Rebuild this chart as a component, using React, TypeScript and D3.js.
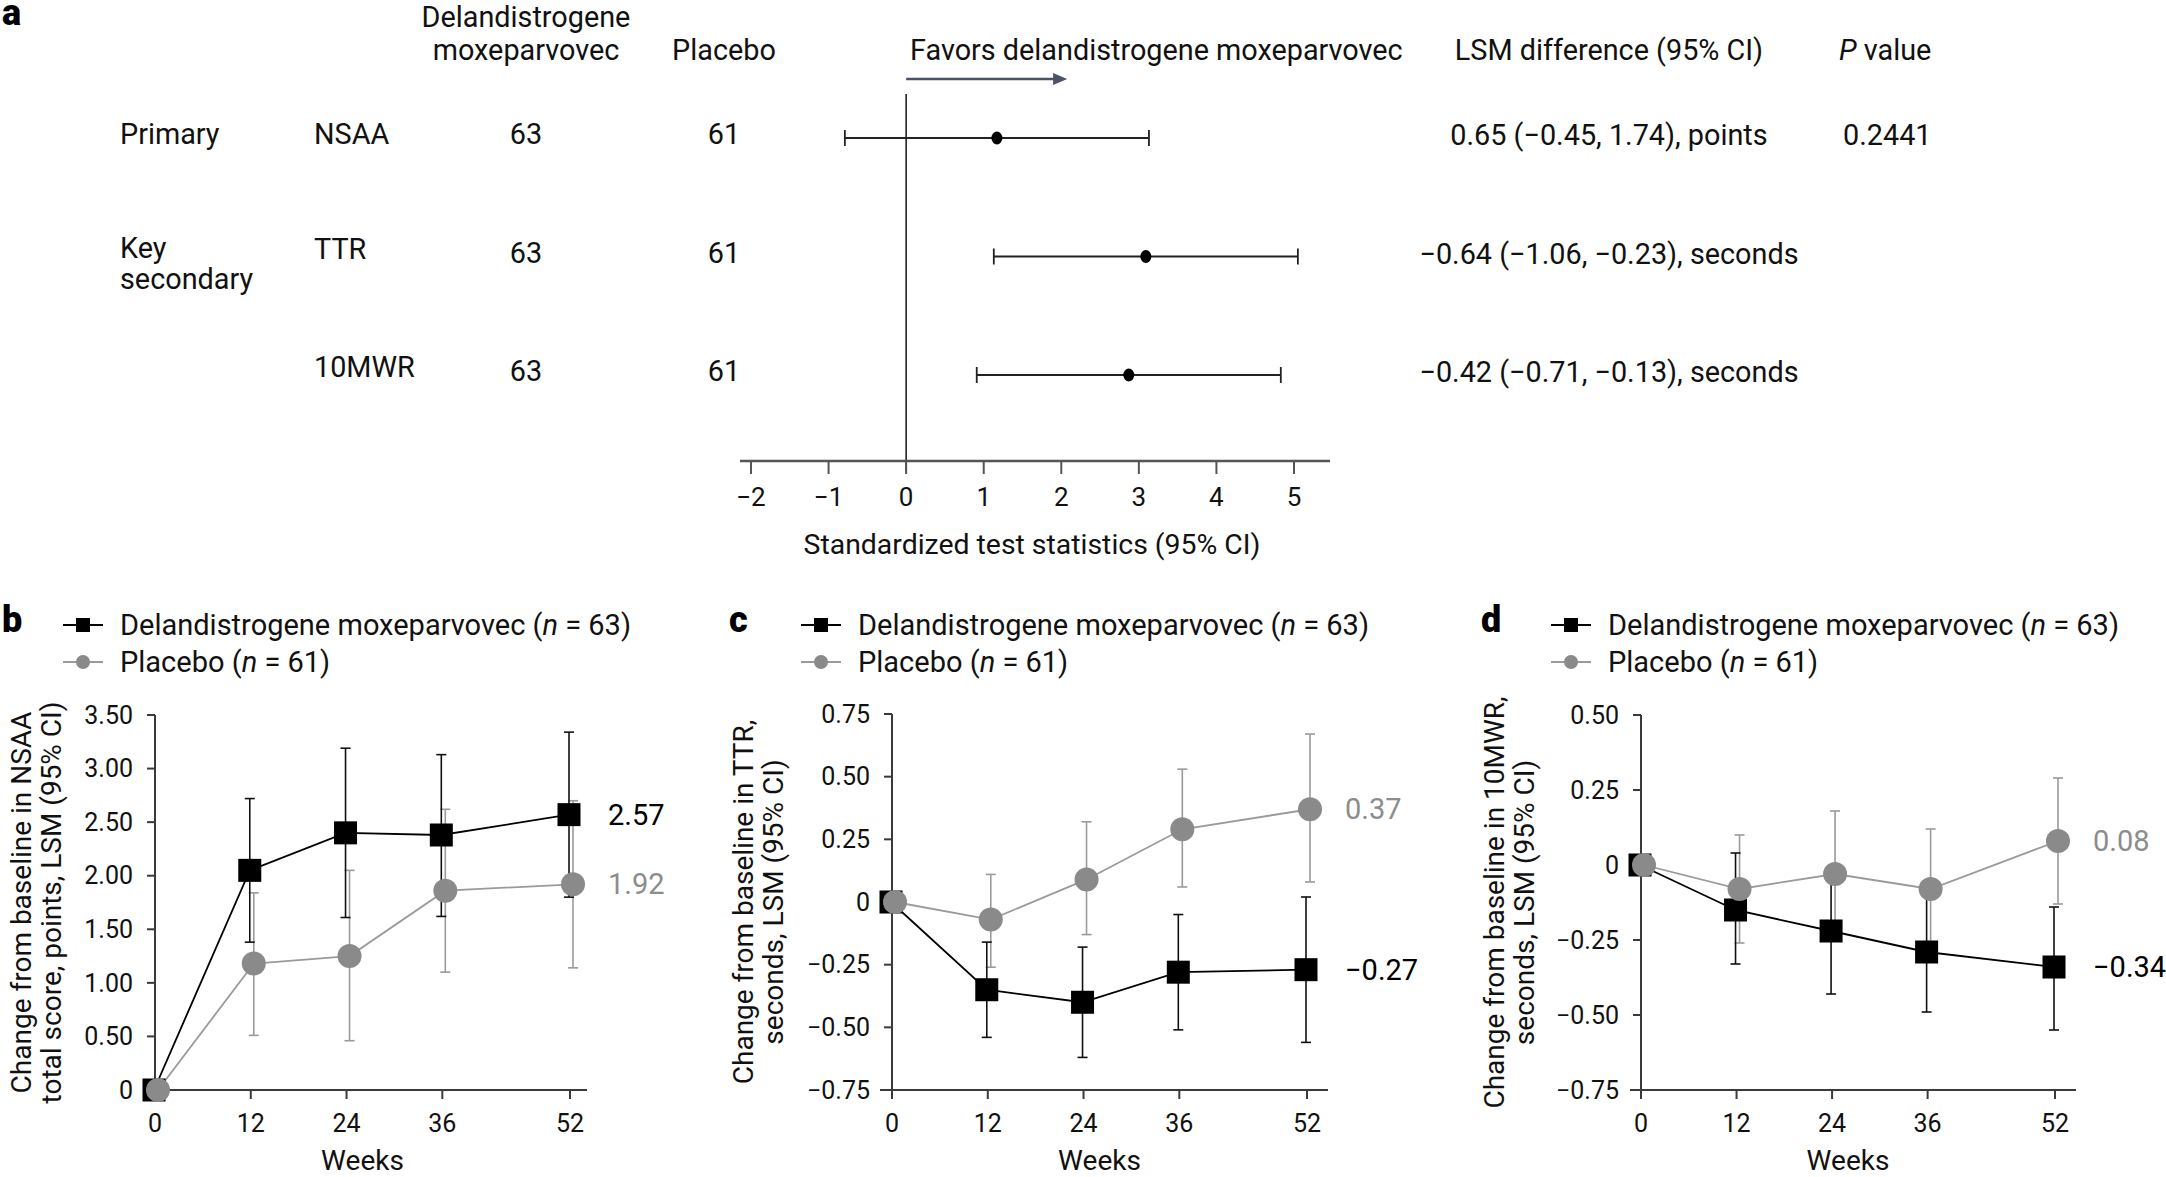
import React from "react";
import * as d3 from "d3";

const FONT = "Roboto, 'Noto Sans', 'DejaVu Sans', sans-serif";

// ---------- Panel a data ----------
const forestOutcomes = ["NSAA", "TTR", "10MWR"];
const forestGroups = [["Primary"], ["Key", "secondary"], []];
const forestDrugN = [63, 63, 63];
const forestPlaceboN = [61, 61, 61];
const forestEstimate = [1.17, 3.09, 2.87];
const forestLower = [-0.79, 1.13, 0.91];
const forestUpper = [3.13, 5.05, 4.83];
const lsmDifference = [
  "0.65 (\u22120.45, 1.74), points",
  "\u22120.64 (\u22121.06, \u22120.23), seconds",
  "\u22120.42 (\u22120.71, \u22120.13), seconds",
];
const pValues = ["0.2441", "", ""];
const forestTicks = [-2, -1, 0, 1, 2, 3, 4, 5];

// ---------- Panels b-d data ----------
const weeks = [0, 12, 24, 36, 52];

const nsaaDrug = [0, 2.05, 2.4, 2.38, 2.57];
const nsaaDrugLower = [null, 1.38, 1.61, 1.62, 1.8];
const nsaaDrugUpper = [null, 2.72, 3.19, 3.13, 3.34];
const nsaaPlacebo = [0, 1.18, 1.25, 1.86, 1.92];
const nsaaPlaceboLower = [null, 0.51, 0.46, 1.1, 1.14];
const nsaaPlaceboUpper = [null, 1.84, 2.05, 2.62, 2.7];
const nsaaTicks = [0, 0.5, 1, 1.5, 2, 2.5, 3, 3.5];

const ttrDrug = [0, -0.35, -0.4, -0.28, -0.27];
const ttrDrugLower = [null, -0.54, -0.62, -0.51, -0.56];
const ttrDrugUpper = [null, -0.16, -0.18, -0.05, 0.02];
const ttrPlacebo = [0, -0.07, 0.09, 0.29, 0.37];
const ttrPlaceboLower = [null, -0.26, -0.13, 0.06, 0.08];
const ttrPlaceboUpper = [null, 0.11, 0.32, 0.53, 0.67];
const ttrTicks = [-0.75, -0.5, -0.25, 0, 0.25, 0.5, 0.75];

const mwrDrug = [0, -0.15, -0.22, -0.29, -0.34];
const mwrDrugLower = [null, -0.33, -0.43, -0.49, -0.55];
const mwrDrugUpper = [null, 0.04, -0.01, -0.09, -0.14];
const mwrPlacebo = [0, -0.08, -0.03, -0.08, 0.08];
const mwrPlaceboLower = [null, -0.26, -0.24, -0.29, -0.13];
const mwrPlaceboUpper = [null, 0.1, 0.18, 0.12, 0.29];
const mwrTicks = [-0.75, -0.5, -0.25, 0, 0.25, 0.5];

const legendDrug = "Delandistrogene moxeparvovec";
const legendPlacebo = "Placebo";
const drugN = 63;
const placeboN = 61;

const GRAY_FILL = "#8a8a8a";
const GRAY_LINE = "#9a9a9a";
const GRAY_TEXT = "#8c8c8c";
const AXIS = "#3a3a3a";

const fmtTick = (v: number) => (v === 0 ? "0" : d3.format(".2f")(v));
const fmtEnd = d3.format(".2f");

type Series = {
  mean: number[];
  lower: (number | null)[];
  upper: (number | null)[];
};

type PanelCfg = {
  letter: string;
  letterX: number;
  legendX: number;
  xRange: [number, number];
  axisExtent: [number, number];
  yDomain: [number, number];
  yRange: [number, number];
  ticks: number[];
  titleLines: string[];
  titleX: [number, number];
  drug: Series;
  placebo: Series;
};

const panels: PanelCfg[] = [
  {
    letter: "b",
    letterX: 2,
    legendX: 63,
    xRange: [155, 570],
    axisExtent: [150, 587],
    yDomain: [0, 3.5],
    yRange: [1090, 715],
    ticks: nsaaTicks,
    titleLines: ["Change from baseline in NSAA", "total score, points, LSM (95% CI)"],
    titleX: [21, 51],
    drug: { mean: nsaaDrug, lower: nsaaDrugLower, upper: nsaaDrugUpper },
    placebo: { mean: nsaaPlacebo, lower: nsaaPlaceboLower, upper: nsaaPlaceboUpper },
  },
  {
    letter: "c",
    letterX: 729,
    legendX: 801,
    xRange: [892, 1307],
    axisExtent: [880, 1328],
    yDomain: [-0.75, 0.75],
    yRange: [1090, 714],
    ticks: ttrTicks,
    titleLines: ["Change from baseline in TTR,", "seconds, LSM (95% CI)"],
    titleX: [743, 773],
    drug: { mean: ttrDrug, lower: ttrDrugLower, upper: ttrDrugUpper },
    placebo: { mean: ttrPlacebo, lower: ttrPlaceboLower, upper: ttrPlaceboUpper },
  },
  {
    letter: "d",
    letterX: 1481,
    legendX: 1551,
    xRange: [1641, 2055],
    axisExtent: [1630, 2076],
    yDomain: [-0.75, 0.5],
    yRange: [1090, 715],
    ticks: mwrTicks,
    titleLines: ["Change from baseline in 10MWR,", "seconds, LSM (95% CI)"],
    titleX: [1494, 1524],
    drug: { mean: mwrDrug, lower: mwrDrugLower, upper: mwrDrugUpper },
    placebo: { mean: mwrPlacebo, lower: mwrPlaceboLower, upper: mwrPlaceboUpper },
  },
];

function ErrorBars({ s, x, y, color, dx }: any) {
  return (
    <g stroke={color} strokeWidth={1.6} fill="none">
      {weeks.map((w, i) => {
        const lo = s.lower[i];
        const hi = s.upper[i];
        if (lo === null || hi === null) return null;
        const cx = x(w) + dx;
        return (
          <g key={i}>
            <line x1={cx} x2={cx} y1={y(lo)} y2={y(hi)} />
            <line x1={cx - 5} x2={cx + 5} y1={y(lo)} y2={y(lo)} />
            <line x1={cx - 5} x2={cx + 5} y1={y(hi)} y2={y(hi)} />
          </g>
        );
      })}
    </g>
  );
}

function Panel({ cfg }: { cfg: PanelCfg }) {
  const x = d3.scaleLinear().domain([0, 52]).range(cfg.xRange);
  const y = d3.scaleLinear().domain(cfg.yDomain).range(cfg.yRange);
  const drugDx = -1;
  const placDx = 3;
  const lineGen = (dx: number) =>
    d3
      .line<number>()
      .x((_, i) => x(weeks[i]) + dx)
      .y((v) => y(v));
  const x0 = cfg.xRange[0];
  const yBottom = cfg.yRange[0];
  const yTop = cfg.yRange[1];
  const yMid = (yBottom + yTop) / 2;
  const lastI = weeks.length - 1;
  const lx = cfg.legendX;
  const lfs = 29;
  return (
    <g fontFamily={FONT}>
      {/* letter */}
      <text x={cfg.letterX} y={632} fontSize={36} fontWeight={900} fill="#000">
        {cfg.letter}
      </text>
      {/* legend */}
      <g>
        <line x1={lx} x2={lx + 40} y1={625} y2={625} stroke="#000" strokeWidth={2} />
        <rect x={lx + 20 - 7} y={625 - 7} width={14} height={14} fill="#000" />
        <text x={lx + 57} y={625} dy="0.35em" fontSize={lfs} fill="#111">
          {legendDrug} (<tspan fontStyle="italic">n</tspan> = {drugN})
        </text>
        <line x1={lx} x2={lx + 40} y1={662} y2={662} stroke={GRAY_LINE} strokeWidth={2} />
        <circle cx={lx + 20} cy={662} r={7} fill={GRAY_FILL} />
        <text x={lx + 57} y={662} dy="0.35em" fontSize={lfs} fill="#111">
          {legendPlacebo} (<tspan fontStyle="italic">n</tspan> = {placeboN})
        </text>
      </g>
      {/* axes */}
      <line x1={x0} x2={x0} y1={yTop} y2={yBottom} stroke={AXIS} strokeWidth={2} />
      <line x1={cfg.axisExtent[0]} x2={cfg.axisExtent[1]} y1={yBottom} y2={yBottom} stroke={AXIS} strokeWidth={2} />
      {cfg.ticks.map((t) => (
        <g key={t}>
          <line x1={x0 - 8} x2={x0} y1={y(t)} y2={y(t)} stroke={AXIS} strokeWidth={2} />
          <text x={x0 - 22} y={y(t)} dy="0.35em" textAnchor="end" fontSize={25} fill="#111">
            {fmtTick(t)}
          </text>
        </g>
      ))}
      {weeks.map((w) => (
        <g key={w}>
          <line x1={x(w)} x2={x(w)} y1={yBottom} y2={yBottom + 9} stroke={AXIS} strokeWidth={2} />
          <text x={x(w)} y={1123} dy="0.35em" textAnchor="middle" fontSize={25} fill="#111">
            {w}
          </text>
        </g>
      ))}
      <text x={(cfg.xRange[0] + cfg.xRange[1]) / 2} y={1160} dy="0.35em" textAnchor="middle" fontSize={28} fill="#111">
        Weeks
      </text>
      {cfg.titleLines.map((t, i) => (
        <text
          key={i}
          transform={`translate(${cfg.titleX[i]},${yMid}) rotate(-90)`}
          dy="0.35em"
          textAnchor="middle"
          fontSize={28}
          fill="#111"
        >
          {t}
        </text>
      ))}
      {/* data */}
      <ErrorBars s={cfg.placebo} x={x} y={y} color={GRAY_LINE} dx={placDx} />
      <ErrorBars s={cfg.drug} x={x} y={y} color="#111" dx={drugDx} />
      <path d={lineGen(placDx)(cfg.placebo.mean) || ""} fill="none" stroke={GRAY_LINE} strokeWidth={1.8} />
      <path d={lineGen(drugDx)(cfg.drug.mean) || ""} fill="none" stroke="#000" strokeWidth={1.8} />
      {cfg.drug.mean.map((v, i) => (
        <rect key={i} x={x(weeks[i]) + drugDx - 11.5} y={y(v) - 11.5} width={23} height={23} fill="#000" />
      ))}
      {cfg.placebo.mean.map((v, i) => (
        <circle key={i} cx={x(weeks[i]) + placDx} cy={y(v)} r={12} fill={GRAY_FILL} />
      ))}
      {/* end labels */}
      <text x={cfg.xRange[1] + 38} y={y(cfg.drug.mean[lastI])} dy="0.35em" fontSize={29} fill="#000">
        {fmtEnd(cfg.drug.mean[lastI])}
      </text>
      <text x={cfg.xRange[1] + 38} y={y(cfg.placebo.mean[lastI])} dy="0.35em" fontSize={29} fill={GRAY_TEXT}>
        {fmtEnd(cfg.placebo.mean[lastI])}
      </text>
    </g>
  );
}

function Forest() {
  const x = d3.scaleLinear().domain([-2, 5]).range([751, 1294]);
  const row = d3.scalePoint<string>().domain(forestOutcomes).range([138, 375]);
  const axisY = 461;
  const fs = 28.8;
  return (
    <g fontFamily={FONT} fill="#111">
      <text x={2} y={25} fontSize={36} fontWeight={900} fill="#000">
        a
      </text>
      {/* headers */}
      <text x={526} y={17} dy="0.35em" textAnchor="middle" fontSize={fs}>
        Delandistrogene
      </text>
      <text x={526} y={50} dy="0.35em" textAnchor="middle" fontSize={fs}>
        moxeparvovec
      </text>
      <text x={724} y={50} dy="0.35em" textAnchor="middle" fontSize={fs}>
        Placebo
      </text>
      <text x={910} y={50} dy="0.35em" fontSize={fs}>
        Favors delandistrogene moxeparvovec
      </text>
      <text x={1609} y={50} dy="0.35em" textAnchor="middle" fontSize={fs}>
        LSM difference (95% CI)
      </text>
      <text x={1839} y={50} dy="0.35em" fontSize={fs}>
        <tspan fontStyle="italic">P</tspan> value
      </text>
      {/* arrow */}
      <line x1={x(0)} x2={x(0) + 150} y1={79} y2={79} stroke="#4a5263" strokeWidth={2.5} />
      <path d={`M${x(0) + 161},79 L${x(0) + 147},73 L${x(0) + 147},85 Z`} fill="#4a5263" />
      {/* rows */}
      {forestOutcomes.map((o, i) => {
        const cy = row(o) as number;
        return (
          <g key={o}>
            {forestGroups[i].map((g, j) => (
              <text key={j} x={120} y={cy - (forestGroups[i].length > 1 ? 9 : 4) + j * 31} dy="0.35em" fontSize={fs}>
                {g}
              </text>
            ))}
            <text x={314} y={cy - (i === 0 ? 4 : 8)} dy="0.35em" fontSize={fs}>
              {o}
            </text>
            <text x={526} y={cy - 4} dy="0.35em" textAnchor="middle" fontSize={fs}>
              {forestDrugN[i]}
            </text>
            <text x={724} y={cy - 4} dy="0.35em" textAnchor="middle" fontSize={fs}>
              {forestPlaceboN[i]}
            </text>
            <text x={1609} y={cy - 3} dy="0.35em" textAnchor="middle" fontSize={fs}>
              {lsmDifference[i]}
            </text>
            {pValues[i] && (
              <text x={1843} y={cy - 3} dy="0.35em" fontSize={fs}>
                {pValues[i]}
              </text>
            )}
            <line x1={x(forestLower[i])} x2={x(forestUpper[i])} y1={cy} y2={cy} stroke="#222" strokeWidth={1.8} />
            <line x1={x(forestLower[i])} x2={x(forestLower[i])} y1={cy - 8} y2={cy + 8} stroke="#222" strokeWidth={1.8} />
            <line x1={x(forestUpper[i])} x2={x(forestUpper[i])} y1={cy - 8} y2={cy + 8} stroke="#222" strokeWidth={1.8} />
            <ellipse cx={x(forestEstimate[i])} cy={cy} rx={5.5} ry={6.5} fill="#000" />
          </g>
        );
      })}
      {/* zero line and axis */}
      <line x1={x(0)} x2={x(0)} y1={94} y2={471} stroke="#222" strokeWidth={1.6} />
      <line x1={740} x2={1330} y1={axisY} y2={axisY} stroke="#555" strokeWidth={2.5} />
      {forestTicks.map((t) => (
        <g key={t}>
          <line x1={x(t)} x2={x(t)} y1={axisY} y2={axisY + 13} stroke="#555" strokeWidth={2} />
          <text x={x(t)} y={497} dy="0.35em" textAnchor="middle" fontSize={26}>
            {t < 0 ? "\u2212" + Math.abs(t) : t}
          </text>
        </g>
      ))}
      <text x={1032} y={544} dy="0.35em" textAnchor="middle" fontSize={28.4}>
        Standardized test statistics (95% CI)
      </text>
    </g>
  );
}

export default function App() {
  return (
    <svg
      width={2166}
      height={1177}
      viewBox="0 0 2166 1177"
      style={{ position: "absolute", left: 0, top: 0, background: "#fff" }}
    >
      <rect x={0} y={0} width={2166} height={1177} fill="#fff" />
      <Forest />
      {panels.map((p) => (
        <Panel key={p.letter} cfg={p} />
      ))}
    </svg>
  );
}
